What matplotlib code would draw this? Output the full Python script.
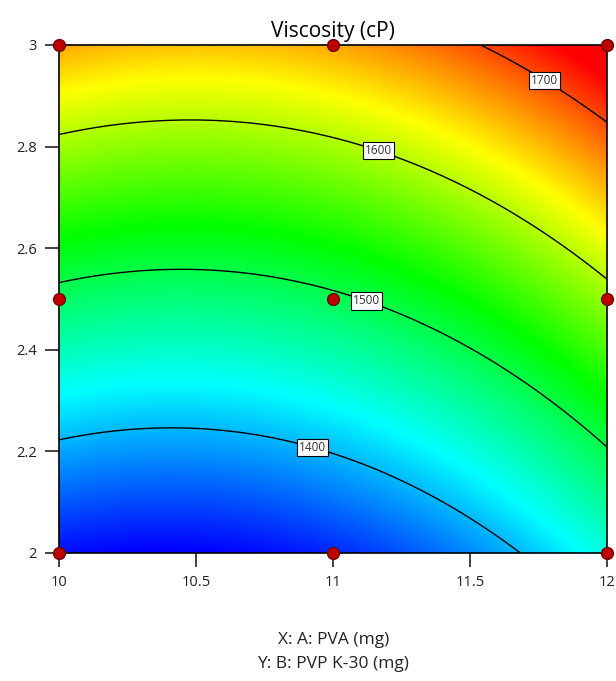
import numpy as np
import matplotlib
matplotlib.use('Agg')
import matplotlib.pyplot as plt
from matplotlib.colors import LinearSegmentedColormap, Normalize

plt.rcParams['font.family'] = ['Open Sans', 'DejaVu Sans']

######### DADOS #########

# pontos do planejamento (A: PVA, B: PVP K-30) e viscosidade
pva = [10, 11, 12, 10, 11, 12, 10, 11, 12]
pvp = [2, 2, 2, 2.5, 2.5, 2.5, 3, 3, 3]
viscosity = [1331.8, 1342.3, 1440.8, 1489.7, 1494.6, 1587.5, 1663.0, 1663.5, 1751.8]

levels = [1400, 1500, 1600, 1700]
xticks = [10, 10.5, 11, 11.5, 12]
yticks = [2, 2.2, 2.4, 2.6, 2.8, 3]
ytick_labels = ['2', '2.2', '2.4', '2.6', '2.8', '3']
label_pos = [(11.8, 2.955), (11.17, 2.80), (11.125, 2.502), (10.93, 2.215)]

######### MODELO QUADRÁTICO #########

def design_matrix(a, b):
    # variáveis codificadas em [-1, 1]
    a = np.asarray(a) - 11
    b = (np.asarray(b) - 2.5) / 0.5
    return np.column_stack([np.ones_like(a), a, b, a * b, a ** 2, b ** 2])

coef, *_ = np.linalg.lstsq(design_matrix(pva, pvp), np.array(viscosity), rcond=None)

A, B = np.meshgrid(np.linspace(10, 12, 300), np.linspace(2, 3, 300))
V = (design_matrix(A.ravel(), B.ravel()) @ coef).reshape(A.shape)

######### FIGURA #########

cmap = LinearSegmentedColormap.from_list('de', ['#0000ff', '#00ffff', '#00ff00', '#ffff00', '#ff0000'])

fig = plt.figure(figsize=(6.16, 6.81), dpi=100)
ax = fig.add_axes([0.0958, 0.188, 0.8896, 0.746])

ax.imshow(V, extent=[10, 12, 2, 3], origin='lower', aspect='auto', cmap=cmap,
          norm=Normalize(1326, 1730), interpolation='bilinear')
cs = ax.contour(A, B, V, levels=levels, colors='black', linewidths=1.0)
texts = ax.clabel(cs, fmt='%d', fontsize=8.5, inline=True, inline_spacing=1, manual=label_pos)
for t in texts:
    t.set_rotation(0)
    t.set_fontsize(8.5)
    t.set_color('#333333')
    t.set_bbox(dict(facecolor='white', edgecolor='black', linewidth=0.8, pad=1.5))

ax.plot(pva, pvp, 'o', ms=8.5, mfc='#c00000', mec='#700000', mew=1, clip_on=False, zorder=10)

ax.set_xlim(10, 12)
ax.set_ylim(2, 3)
ax.set_xticks(xticks)
ax.set_xticklabels(['10', '10.5', '11', '11.5', '12'])
ax.set_yticks(yticks)
ax.set_yticklabels(ytick_labels)
ax.tick_params(direction='out', length=10, width=1.2, labelsize=10.5, colors='#222222', pad=6)
for s in ax.spines.values():
    s.set_linewidth(1.2)

ax.set_title('Viscosity (cP)', fontsize=15, pad=6)
fig.text(0.541, 0.060, 'X: A: PVA (mg)', ha='center', va='center', fontsize=12.5, color='#222222')
fig.text(0.541, 0.025, 'Y: B: PVP K-30 (mg)', ha='center', va='center', fontsize=12.5, color='#222222')

plt.savefig('out.png', dpi=100)
